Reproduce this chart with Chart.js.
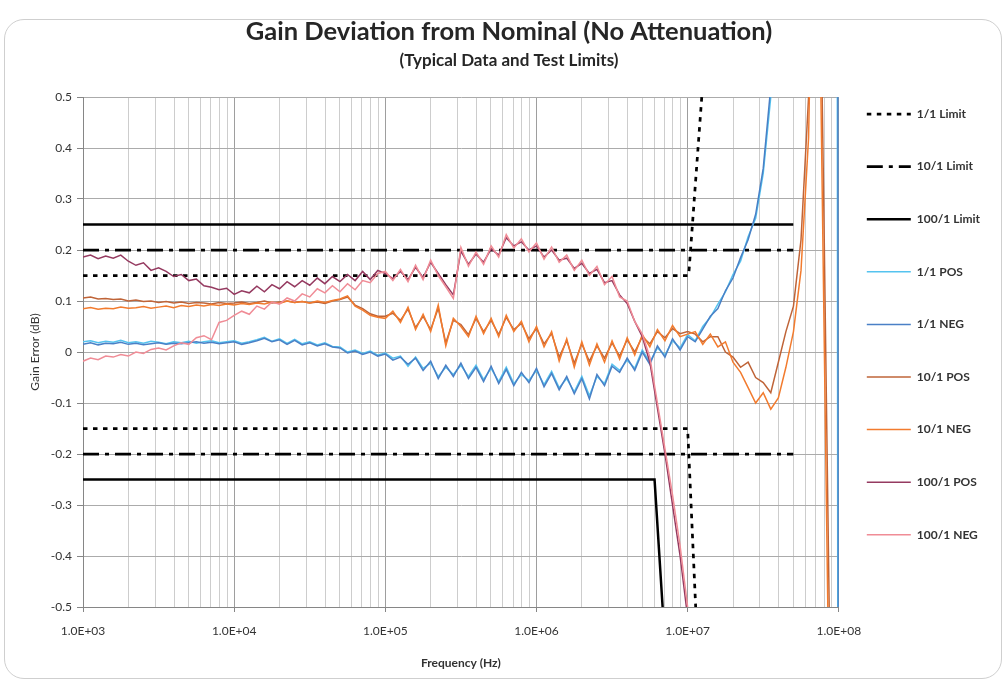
<!DOCTYPE html>
<html>
<head>
<meta charset="utf-8">
<script src="https://cdn.jsdelivr.net/npm/chart.js@4.4.1/dist/chart.umd.min.js"></script>
<style>
html, body { margin: 0; padding: 0; background: #fff; overflow: hidden; }
#card { position: absolute; left: 4px; top: 19px; width: 996px; height: 658px; border: 1px solid #cfcfcf; border-radius: 20px; }
#wrap { position: absolute; left: 0; top: 0; width: 1002px; height: 681px; }
</style>
</head>
<body>
<div id="card"></div>
<div id="wrap"><canvas id="chartGain" width="1002" height="681"></canvas></div>
<script>
// frequency points (Hz) shared by the measured curves
var freqHz = [
  1.000e3, 1.122e3, 1.259e3, 1.413e3, 1.585e3, 1.778e3, 1.995e3, 2.239e3, 2.512e3, 2.818e3,
  3.162e3, 3.548e3, 3.981e3, 4.467e3, 5.012e3, 5.623e3, 6.310e3, 7.079e3, 7.943e3, 8.913e3,
  1.000e4, 1.122e4, 1.259e4, 1.413e4, 1.585e4, 1.778e4, 1.995e4, 2.239e4, 2.512e4, 2.818e4,
  3.162e4, 3.548e4, 3.981e4, 4.467e4, 5.012e4, 5.623e4, 6.310e4, 7.079e4, 7.943e4, 8.913e4,
  1.000e5, 1.122e5, 1.259e5, 1.413e5, 1.585e5, 1.778e5, 1.995e5, 2.239e5, 2.512e5, 2.818e5,
  3.162e5, 3.548e5, 3.981e5, 4.467e5, 5.012e5, 5.623e5, 6.310e5, 7.079e5, 7.943e5, 8.913e5,
  1.000e6, 1.122e6, 1.259e6, 1.413e6, 1.585e6, 1.778e6, 1.995e6, 2.239e6, 2.512e6, 2.818e6,
  3.162e6, 3.548e6, 3.981e6, 4.467e6, 5.012e6, 5.623e6, 6.310e6, 7.079e6, 7.943e6, 8.913e6,
  1.000e7, 1.122e7, 1.259e7, 1.413e7, 1.585e7, 1.778e7, 1.995e7, 2.239e7, 2.512e7, 2.818e7,
  3.162e7, 3.548e7, 3.981e7, 4.467e7, 5.012e7, 5.623e7, 6.310e7, 7.079e7, 7.943e7, 8.913e7,
  1.000e8
];

var pos1 = [
  0.020, 0.022, 0.018, 0.021, 0.019, 0.023, 0.018, 0.020, 0.017, 0.021,
  0.019, 0.016, 0.020, 0.018, 0.021, 0.017, 0.020, 0.022, 0.018, 0.020,
  0.022, 0.017, 0.020, 0.024, 0.029, 0.021, 0.026, 0.017, 0.025, 0.016,
  0.020, 0.014, 0.018, 0.011, 0.010, 0.000, 0.004, -0.003, 0.002, -0.006,
  -0.002, -0.012, -0.008, -0.028, -0.010, -0.032, -0.022, -0.048, -0.030, -0.044,
  -0.026, -0.048, -0.026, -0.054, -0.032, -0.058, -0.030, -0.062, -0.044, -0.056,
  -0.036, -0.064, -0.038, -0.070, -0.052, -0.078, -0.048, -0.086, -0.048, -0.062,
  -0.024, -0.036, -0.016, -0.032, 0.004, -0.020, 0.008, -0.006, 0.022, 0.008,
  0.034, 0.022, 0.050, 0.068, 0.094, 0.118, 0.152, 0.178, 0.226, 0.262,
  0.350, 0.500, 0.720, 1.100, 1.500, 1.900, 2.400, 3.000, 3.800, 15.0,
  -3.0
];
var neg1 = [
  0.015, 0.018, 0.014, 0.017, 0.016, 0.019, 0.015, 0.017, 0.014, 0.016,
  0.018, 0.015, 0.017, 0.016, 0.018, 0.020, 0.017, 0.019, 0.016, 0.018,
  0.020, 0.015, 0.018, 0.022, 0.027, 0.020, 0.024, 0.015, 0.023, 0.014,
  0.018, 0.012, 0.016, 0.010, 0.008, -0.002, 0.002, -0.005, 0.000, -0.008,
  -0.004, -0.016, -0.010, -0.024, -0.012, -0.036, -0.018, -0.052, -0.026, -0.048,
  -0.022, -0.052, -0.030, -0.058, -0.028, -0.062, -0.034, -0.066, -0.040, -0.060,
  -0.032, -0.068, -0.042, -0.074, -0.048, -0.082, -0.052, -0.092, -0.044, -0.066,
  -0.028, -0.040, -0.012, -0.036, 0.000, -0.024, 0.012, -0.010, 0.026, 0.004,
  0.030, 0.020, 0.045, 0.070, 0.085, 0.120, 0.145, 0.185, 0.220, 0.270,
  0.360, 0.520, 0.800, 1.200, 1.600, 2.000, 2.600, 3.200, 4.000, 20.0,
  -2.0
];
var pos10 = [
  0.106, 0.108, 0.104, 0.105, 0.103, 0.104, 0.100, 0.102, 0.099, 0.100,
  0.097, 0.099, 0.096, 0.098, 0.095, 0.097, 0.096, 0.094, 0.097, 0.095,
  0.096, 0.098, 0.095, 0.097, 0.100, 0.096, 0.098, 0.100, 0.097, 0.099,
  0.096, 0.098, 0.095, 0.100, 0.103, 0.108, 0.092, 0.085, 0.075, 0.070,
  0.070, 0.076, 0.062, 0.084, 0.048, 0.070, 0.044, 0.086, 0.018, 0.062,
  0.054, 0.034, 0.066, 0.040, 0.062, 0.034, 0.068, 0.044, 0.056, 0.026,
  0.046, 0.016, 0.036, -0.010, 0.022, -0.022, 0.016, -0.018, 0.012, -0.012,
  0.018, -0.008, 0.024, 0.000, 0.030, 0.016, 0.040, 0.028, 0.046, 0.036,
  0.040, 0.035, 0.020, 0.030, 0.030, 0.000, -0.010, -0.030, -0.020, -0.050,
  -0.060, -0.080, -0.020, 0.040, 0.090, 0.220, 0.500, 1.300, 0.300, -0.800,
  -2.0
];
var neg10 = [
  0.085, 0.087, 0.084, 0.086, 0.085, 0.088, 0.086, 0.087, 0.089, 0.086,
  0.088, 0.090, 0.087, 0.091, 0.089, 0.092, 0.090, 0.093, 0.091, 0.094,
  0.092, 0.095, 0.093, 0.096, 0.094, 0.098, 0.095, 0.100, 0.097, 0.099,
  0.096, 0.100, 0.097, 0.101, 0.104, 0.110, 0.090, 0.082, 0.072, 0.068,
  0.066, 0.080, 0.058, 0.088, 0.044, 0.074, 0.040, 0.092, 0.012, 0.066,
  0.050, 0.030, 0.070, 0.036, 0.066, 0.030, 0.072, 0.040, 0.060, 0.020,
  0.050, 0.010, 0.040, -0.018, 0.026, -0.030, 0.020, -0.026, 0.016, -0.020,
  0.022, -0.014, 0.028, -0.006, 0.034, 0.010, 0.044, 0.022, 0.052, 0.030,
  0.035, 0.040, 0.015, 0.035, 0.010, 0.020, -0.020, -0.040, -0.070, -0.100,
  -0.080, -0.112, -0.090, -0.030, 0.040, 0.160, 0.420, 1.200, 0.100, -1.000,
  -2.0
];
var pos100 = [
  0.186, 0.190, 0.183, 0.188, 0.184, 0.190, 0.178, 0.170, 0.175, 0.160,
  0.165, 0.158, 0.148, 0.152, 0.140, 0.143, 0.130, 0.127, 0.122, 0.125,
  0.113, 0.120, 0.116, 0.129, 0.118, 0.132, 0.124, 0.138, 0.128, 0.140,
  0.131, 0.145, 0.134, 0.148, 0.138, 0.152, 0.140, 0.158, 0.142, 0.160,
  0.154, 0.144, 0.158, 0.142, 0.166, 0.146, 0.176, 0.154, 0.132, 0.112,
  0.198, 0.172, 0.192, 0.176, 0.202, 0.190, 0.224, 0.208, 0.216, 0.200,
  0.208, 0.186, 0.200, 0.180, 0.184, 0.164, 0.174, 0.154, 0.162, 0.136,
  0.140, 0.112, 0.095, 0.060, 0.030, -0.020, -0.110, -0.200, -0.300, -0.400,
  -0.520, null, null, null, null, null, null, null, null, null,
  null, null, null, null, null, null, null, null, null, null,
  null
];
var neg100 = [
  -0.018, -0.012, -0.015, -0.008, -0.010, -0.005, -0.008, 0.000, -0.003, 0.005,
  0.008, 0.004, 0.012, 0.018, 0.015, 0.028, 0.032, 0.024, 0.058, 0.062,
  0.072, 0.080, 0.074, 0.090, 0.084, 0.098, 0.094, 0.106, 0.100, 0.114,
  0.108, 0.124, 0.116, 0.130, 0.118, 0.134, 0.122, 0.140, 0.136, 0.154,
  0.158, 0.140, 0.162, 0.138, 0.170, 0.142, 0.180, 0.150, 0.128, 0.105,
  0.205, 0.168, 0.196, 0.172, 0.208, 0.186, 0.230, 0.204, 0.222, 0.196,
  0.214, 0.182, 0.206, 0.176, 0.190, 0.160, 0.180, 0.150, 0.168, 0.132,
  0.148, 0.108, 0.100, 0.060, 0.035, -0.010, -0.100, -0.190, -0.280, -0.380,
  -0.500, -0.650, null, null, null, null, null, null, null, null,
  null, null, null, null, null, null, null, null, null, null,
  null
];

// test limits (upper run, gap, lower run)
var limit1Freq = [1.0e3, 1.016e7, 1.24e7, 1.24e7, 1.0e3, 1.0e7, 1.13e7];
var limit1Val = [0.15, 0.15, 0.5, null, -0.15, -0.15, -0.5];
var limit10Freq = [1.0e3, 5.0e7, 5.0e7, 1.0e3, 5.0e7];
var limit10Val = [0.2, 0.2, null, -0.2, -0.2];
var limit100Freq = [1.0e3, 5.0e7, 5.0e7, 1.0e3, 6.04e6, 6.83e6];
var limit100Val = [0.25, 0.25, null, -0.25, -0.25, -0.5];

var decadeTicks = [1e3, 1e4, 1e5, 1e6, 1e7, 1e8];
var decadeLabels = ['1.0E+03', '1.0E+04', '1.0E+05', '1.0E+06', '1.0E+07', '1.0E+08'];

function pts(xs, ys) {
  return xs.map(function(x, i) { return { x: x, y: ys[i] }; });
}

Chart.defaults.font.family = 'Lato, "DejaVu Sans", sans-serif';
Chart.defaults.color = '#333';

var chartGain;
function initChart(){
  var ctx = document.getElementById('chartGain').getContext('2d');
  chartGain = new Chart(ctx, {
    type: 'line',
    data: {
      datasets: [
        { label: '1/1 Limit', data: pts(limit1Freq, limit1Val), borderColor: '#000', backgroundColor: '#000', borderWidth: 2.75, borderDash: [4.5, 5.5], order: 8 },
        { label: '10/1 Limit', data: pts(limit10Freq, limit10Val), borderColor: '#000', backgroundColor: '#000', borderWidth: 2.75, borderDash: [16, 6, 4, 6], order: 7 },
        { label: '100/1 Limit', data: pts(limit100Freq, limit100Val), borderColor: '#000', backgroundColor: '#000', borderWidth: 2.5, order: 6 },
        { label: '1/1 POS', data: pts(freqHz, pos1), borderColor: '#55c3ef', backgroundColor: '#55c3ef', borderWidth: 1.5, order: 5 },
        { label: '1/1 NEG', data: pts(freqHz, neg1), borderColor: '#4a80c6', backgroundColor: '#4a80c6', borderWidth: 1.5, order: 4 },
        { label: '10/1 POS', data: pts(freqHz, pos10), borderColor: '#bf6438', backgroundColor: '#bf6438', borderWidth: 1.5, order: 3 },
        { label: '10/1 NEG', data: pts(freqHz, neg10), borderColor: '#f27b2e', backgroundColor: '#f27b2e', borderWidth: 1.5, order: 2 },
        { label: '100/1 POS', data: pts(freqHz, pos100), borderColor: '#953a60', backgroundColor: '#953a60', borderWidth: 1.5, order: 1 },
        { label: '100/1 NEG', data: pts(freqHz, neg100), borderColor: '#f08c96', backgroundColor: '#f08c96', borderWidth: 1.5, order: 0 }
      ]
    },
    options: {
      responsive: false,
      animation: false,
      devicePixelRatio: 1,
      layout: { padding: { left: 28, right: 12, top: 0, bottom: 0 } },
      elements: { point: { radius: 0 }, line: { tension: 0 } },
      plugins: {
        title: {
          display: true,
          text: 'Gain Deviation from Nominal (No Attenuation)',
          color: '#262626',
          font: { size: 25.5, weight: 'bold' },
          padding: { top: 16.7, bottom: 0 }
        },
        subtitle: {
          display: true,
          text: '(Typical Data and Test Limits)',
          color: '#262626',
          font: { size: 17, weight: 'bold' },
          padding: { top: 3.5, bottom: 25.8 }
        },
        legend: {
          position: 'right',
          align: 'start',
          title: { display: true, text: ' ', font: { size: 1, lineHeight: 1 }, padding: { top: 79, bottom: 0 } },
          labels: {
            usePointStyle: true,
            pointStyle: 'line',
            pointStyleWidth: 44,
            padding: 28,
            color: '#333',
            font: { size: 12, weight: 'bold', lineHeight: 2.05 },
            generateLabels: function(chart) {
              var items = Chart.defaults.plugins.legend.labels.generateLabels(chart);
              items.forEach(function(it) {
                var ds = chart.data.datasets[it.datasetIndex];
                it.text = [it.text];
                it.lineDash = ds.borderDash || [];
                it.lineWidth = ds.borderWidth;
                it.strokeStyle = ds.borderColor;
              });
              return items;
            },
            sort: function(a, b) { return a.datasetIndex - b.datasetIndex; }
          }
        },
        tooltip: { enabled: false }
      },
      scales: {
        x: {
          type: 'logarithmic',
          min: 1e3,
          max: 1e8,
          afterBuildTicks: function(axis) {
            var t = [];
            decadeTicks.forEach(function(d, i) {
              if (i < decadeTicks.length - 1) {
                for (var m = 1; m < 10; m++) t.push({ value: d * m });
              } else {
                t.push({ value: d });
              }
            });
            axis.ticks = t;
          },
          afterFit: function(axis) { axis.height = 74; },
          ticks: {
            autoSkip: false,
            maxRotation: 0,
            padding: 12,
            color: '#333',
            font: { size: 12 },
            callback: function(v) {
              var i = decadeTicks.indexOf(v);
              return i >= 0 ? decadeLabels[i] : '';
            }
          },
          grid: {
            color: function(c) { return c.tick && decadeTicks.indexOf(c.tick.value) >= 0 ? '#9e9e9e' : '#cdcdcd'; },
            tickLength: 5,
            tickColor: function(c) { return c.tick && decadeTicks.indexOf(c.tick.value) >= 0 ? '#868686' : 'rgba(0,0,0,0)'; }
          },
          border: { color: '#868686' },
          title: { display: true, text: 'Frequency (Hz)', color: '#333', font: { size: 12, weight: 'bold' }, padding: { top: 0, bottom: 11 } }
        },
        y: {
          min: -0.5,
          max: 0.5,
          afterFit: function(axis) { axis.width = 55; },
          ticks: {
            stepSize: 0.1,
            padding: 5,
            color: '#333',
            font: { size: 12 },
            callback: function(v) { return Math.abs(v) < 1e-9 ? '0' : v.toFixed(1); }
          },
          grid: { color: '#ababab', tickLength: 6, tickColor: '#868686' },
          border: { color: '#868686' },
          title: { display: true, text: 'Gain Error (dB)', color: '#333', font: { size: 12 }, padding: { top: 0, bottom: 0 } }
        }
      }
    }
  });
}
initChart();
</script>
</body>
</html>
